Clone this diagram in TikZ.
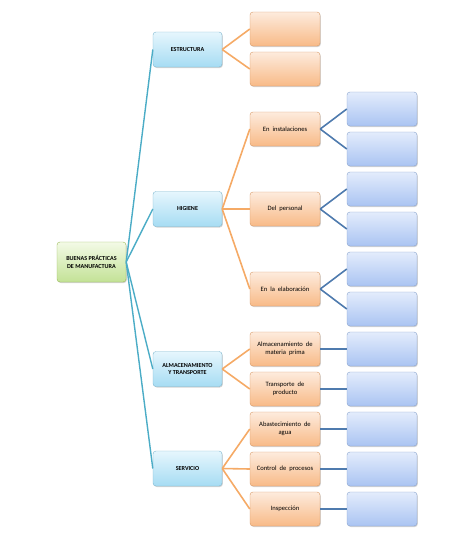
\documentclass[tikz,border=0pt]{standalone}
\usepackage{fontspec}
\setmainfont{Carlito}
\usetikzlibrary{shadows}
\definecolor{rootTop}{HTML}{F3FAE6}
\definecolor{rootBot}{HTML}{C3E296}
\definecolor{rootLine}{HTML}{9BBB59}
\definecolor{oneTop}{HTML}{E6F6FD}
\definecolor{oneBot}{HTML}{A6DCF3}
\definecolor{oneLine}{HTML}{7FB8D0}
\definecolor{twoTop}{HTML}{FDEBDD}
\definecolor{twoBot}{HTML}{F8BA87}
\definecolor{twoLine}{HTML}{D99A66}
\definecolor{thrTop}{HTML}{E3ECFC}
\definecolor{thrBot}{HTML}{AAC4F2}
\definecolor{thrLine}{HTML}{8AA3CC}
\definecolor{tealC}{HTML}{4BACC6}
\definecolor{orangeC}{HTML}{F5AA66}
\definecolor{blueC}{HTML}{4F7BAE}
\newcommand{\widespacing}{\spaceskip=3pt plus 1pt\relax}
\tikzset{
  basebox/.style={rounded corners=3pt, inner sep=1pt, align=center,
    drop shadow={shadow xshift=0.8pt, shadow yshift=-1pt, opacity=0.35, fill=gray}},
  rootbox/.style={basebox, draw=rootLine, top color=rootTop, bottom color=rootBot,
    minimum width=69pt, minimum height=40pt, font=\fontsize{6.1}{7.6}\selectfont\bfseries},
  onebox/.style={basebox, draw=oneLine, top color=oneTop, bottom color=oneBot,
    minimum width=69pt, minimum height=35pt, font=\fontsize{6.1}{7.6}\selectfont\bfseries},
  twobox/.style={basebox, draw=twoLine, top color=twoTop, bottom color=twoBot,
    minimum width=70pt, minimum height=34pt, font=\fontsize{6.6}{8}\selectfont\widespacing},
  thrbox/.style={basebox, draw=thrLine, top color=thrTop, bottom color=thrBot,
    minimum width=70pt, minimum height=34pt},
  tealedge/.style={draw=tealC, line width=1.4pt},
  orangeedge/.style={draw=orangeC, line width=1.6pt},
  blueedge/.style={draw=blueC, line width=1.6pt}
}
\begin{document}
\begin{tikzpicture}[x=1pt,y=-1pt]
\useasboundingbox (0,0) rectangle (476,536);
% root
\node[rootbox] (root) at (91.5,262) {BUENAS PRÁCTICAS\\DE MANUFACTURA};
% level 1
\node[onebox] (est) at (187.5,49.5) {ESTRUCTURA};
\node[onebox] (hig) at (187.5,209) {HIGIENE};
\node[onebox] (alm) at (187.5,369) {ALMACENAMIENTO\\Y TRANSPORTE};
\node[onebox] (ser) at (187.5,468.5) {SERVICIO};
% level 2
\node[twobox] (e1) at (285,29) {};
\node[twobox] (e2) at (285,69) {};
\node[twobox] (h1) at (285,129) {En instalaciones};
\node[twobox] (h2) at (285,209) {Del personal};
\node[twobox] (h3) at (285,289) {En la elaboración};
\node[twobox] (a1) at (285,349) {Almacenamiento de\\materia prima};
\node[twobox] (a2) at (285,389) {Transporte de\\producto};
\node[twobox] (s1) at (285,429) {Abastecimiento de\\agua};
\node[twobox] (s2) at (285,469) {Control de procesos};
\node[twobox] (s3) at (285,509) {Inspección};
% level 3
\node[thrbox] (b1) at (382,109) {};
\node[thrbox] (b2) at (382,149) {};
\node[thrbox] (b3) at (382,189) {};
\node[thrbox] (b4) at (382,229) {};
\node[thrbox] (b5) at (382,269) {};
\node[thrbox] (b6) at (382,309) {};
\node[thrbox] (b7) at (382,349) {};
\node[thrbox] (b8) at (382,389) {};
\node[thrbox] (b9) at (382,429) {};
\node[thrbox] (b10) at (382,469) {};
\node[thrbox] (b11) at (382,509) {};
% edges
\foreach \t in {est,hig,alm,ser} \draw[tealedge] (root.east) -- (\t.west);
\draw[orangeedge] (est.east) -- (e1.west);
\draw[orangeedge] (est.east) -- (e2.west);
\draw[orangeedge] (hig.east) -- (h1.west);
\draw[orangeedge] (hig.east) -- (h2.west);
\draw[orangeedge] (hig.east) -- (h3.west);
\draw[orangeedge] (alm.east) -- (a1.west);
\draw[orangeedge] (alm.east) -- (a2.west);
\draw[orangeedge] (ser.east) -- (s1.west);
\draw[orangeedge] (ser.east) -- (s2.west);
\draw[orangeedge] (ser.east) -- (s3.west);
\draw[blueedge] (h1.east) -- (b1.west);
\draw[blueedge] (h1.east) -- (b2.west);
\draw[blueedge] (h2.east) -- (b3.west);
\draw[blueedge] (h2.east) -- (b4.west);
\draw[blueedge] (h3.east) -- (b5.west);
\draw[blueedge] (h3.east) -- (b6.west);
\draw[blueedge] (a1.east) -- (b7.west);
\draw[blueedge] (a2.east) -- (b8.west);
\draw[blueedge] (s1.east) -- (b9.west);
\draw[blueedge] (s2.east) -- (b10.west);
\draw[blueedge] (s3.east) -- (b11.west);
\end{tikzpicture}
\end{document}
